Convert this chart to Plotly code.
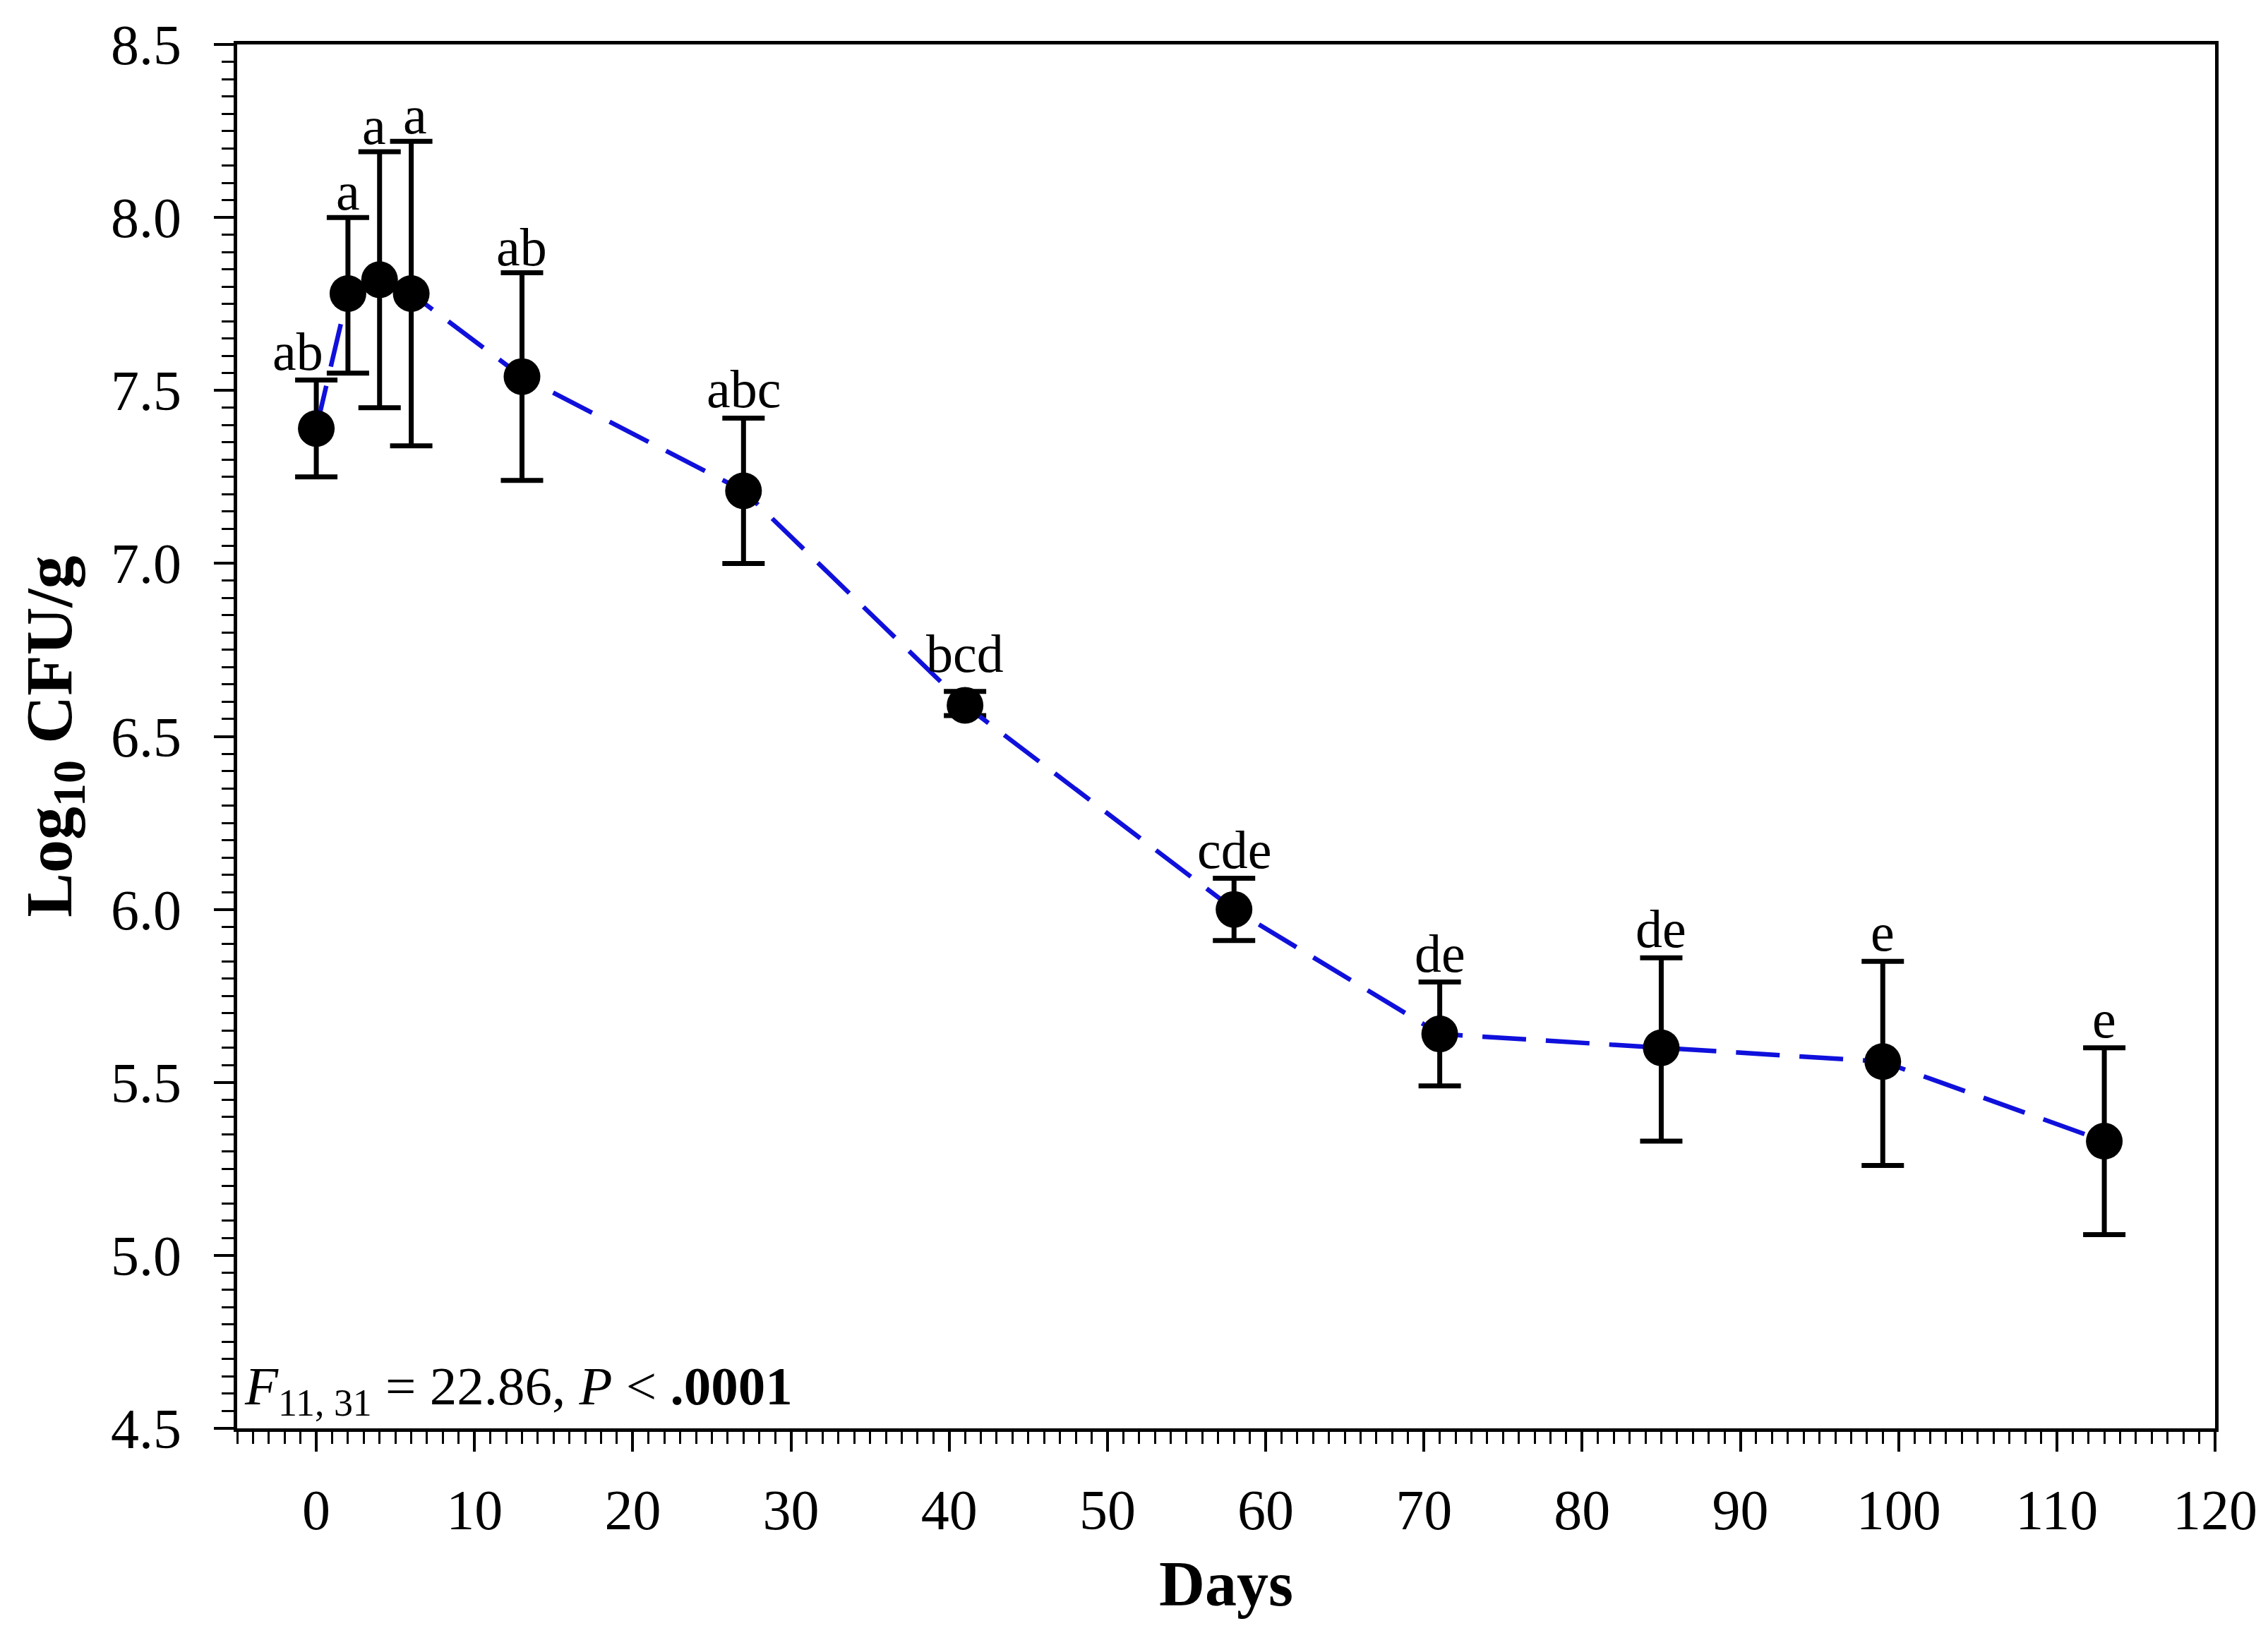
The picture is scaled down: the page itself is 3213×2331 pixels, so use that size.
import plotly.graph_objects as go

# ---- data ----
days = [0, 2, 4, 6, 13, 27, 41, 58, 71, 85, 99, 113]
mean_log = [7.39, 7.78, 7.82, 7.78, 7.54, 7.21, 6.59, 6.00, 5.64, 5.60, 5.56, 5.33]
upper_log = [7.53, 8.00, 8.19, 8.22, 7.84, 7.42, 6.63, 6.09, 5.79, 5.86, 5.85, 5.60]
lower_log = [7.25, 7.55, 7.45, 7.34, 7.24, 7.00, 6.56, 5.91, 5.49, 5.33, 5.26, 5.06]
group_letters = ["ab", "a", "a", "a", "ab", "abc", "bcd", "cde", "de", "de", "e", "e"]
x_ticks = [0, 10, 20, 30, 40, 50, 60, 70, 80, 90, 100, 110, 120]
y_ticks = [4.5, 5.0, 5.5, 6.0, 6.5, 7.0, 7.5, 8.0, 8.5]
stats_text = "<i>F</i><sub>11, 31</sub> = 22.86, <i>P</i> &lt; <b>.0001</b>"

err_plus = [u - m for u, m in zip(upper_log, mean_log)]
err_minus = [m - l for m, l in zip(mean_log, lower_log)]

FONT = "Liberation Serif, Times New Roman, serif"

fig = go.Figure()
fig.add_trace(go.Scatter(
    x=days, y=mean_log,
    mode="lines+markers",
    line=dict(color="#1010dc", width=6.5, dash="62px,28px"),
    marker=dict(color="black", size=52, line=dict(width=0)),
    error_y=dict(type="data", array=err_plus, arrayminus=err_minus,
                 color="black", thickness=7, width=30, symmetric=False),
    showlegend=False,
))

# letter labels above error caps (pixel nudges to mimic original placement)
label_xshift = [-26, 0, -8, 5, 0, 0, 0, 0, 0, 0, 0, 0]
label_yshift = [-3, -7, -7, -7, -7, -3, 10, -3, -3, -3, -3, -3]
for d, up, lab, xs, ys in zip(days, upper_log, group_letters, label_xshift, label_yshift):
    fig.add_annotation(x=d, y=up, text=lab, showarrow=False,
                       xanchor="center", yanchor="bottom",
                       xshift=xs, yshift=ys,
                       font=dict(family=FONT, size=76, color="black"))

fig.add_annotation(x=0.003, y=0.002, xref="paper", yref="paper",
                   text=stats_text, showarrow=False,
                   xanchor="left", yanchor="bottom",
                   font=dict(family=FONT, size=77, color="black"))

axis_common = dict(
    showline=True, linecolor="black", linewidth=5, mirror=True,
    ticks="outside", ticklen=28, tickwidth=4, tickcolor="black",
    showgrid=False, zeroline=False,
    tickfont=dict(family=FONT, size=80, color="black"),
)

fig.update_xaxes(
    range=[-5, 120], tickvals=x_ticks,
    minor=dict(dtick=1, tick0=0, ticks="outside", ticklen=17, tickwidth=3,
               tickcolor="black", showgrid=False),
    title=dict(text="<b>Days</b>", font=dict(family=FONT, size=90, color="black"),
               standoff=30),
    ticklabelstandoff=14,
    **axis_common,
)
fig.update_yaxes(
    range=[4.5, 8.5], tickvals=y_ticks, tickformat=".1f",
    minor=dict(dtick=0.05, tick0=4.5, ticks="outside", ticklen=17, tickwidth=3,
               tickcolor="black", showgrid=False),
    title=dict(text="<b>Log<sub>10</sub> CFU/g</b>", font=dict(family=FONT, size=94, color="black"),
               standoff=26),
    ticklabelstandoff=30,
    **axis_common,
)

fig.update_layout(
    width=3213, height=2331,
    margin=dict(l=328, r=83, t=53, b=315),
    plot_bgcolor="white", paper_bgcolor="white",
    font=dict(family=FONT, color="black"),
)

fig.write_html("out.html")
